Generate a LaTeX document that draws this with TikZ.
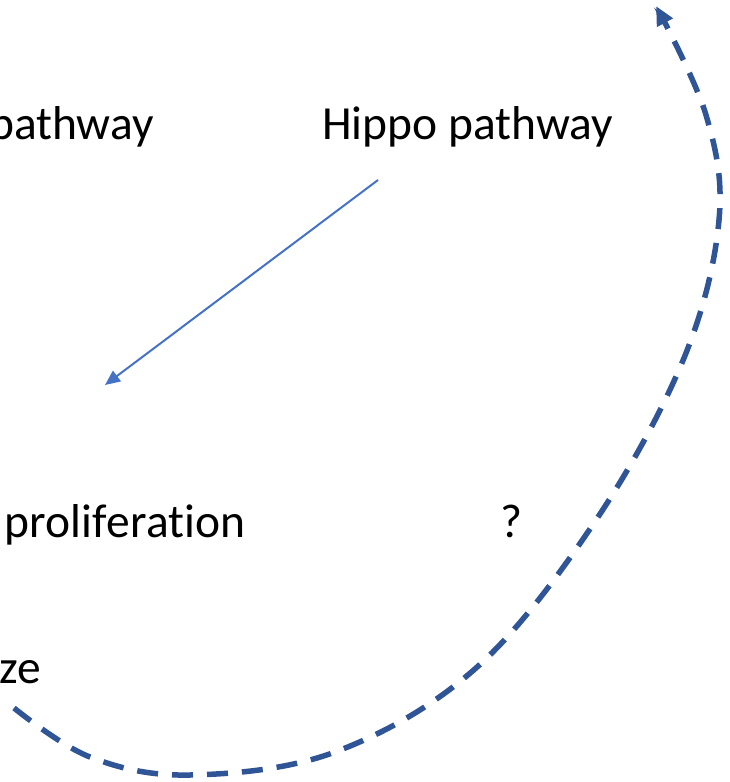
\documentclass[tikz,border=0pt]{standalone}
\usepackage{fontspec}
\setmainfont[Ligatures={NoCommon,NoRare,NoDiscretionary}]{Carlito}
\usetikzlibrary{arrows.meta}
\definecolor{thinblue}{HTML}{4472C4}
\definecolor{darkblue}{HTML}{2F5597}
\tikzset{
  lbl/.style={font=\fontsize{47.5}{57}\selectfont, inner sep=0pt},
  thinarrow/.style={draw=thinblue, line width=2pt, -{Triangle[length=15pt,width=13pt]}},
  dasharc/.style={draw=darkblue, line width=5.5pt, dash pattern=on 21pt off 14pt, -{Triangle[length=19pt,width=17pt]}}
}
\begin{document}
\begin{tikzpicture}[x=1pt,y=-1pt]
\useasboundingbox (0,0) rectangle (729,782);
\node[lbl, anchor=base east] (pw) at (154,139) {pathway};
\node[lbl, anchor=base west] (hippo) at (322,139) {Hippo pathway};
\node[lbl, anchor=base east] (prolif) at (246,537) {prolif\kern0ptera\kern0pt tion};
\node[lbl, anchor=base west] (q) at (500,537) {?};
\node[lbl, anchor=base east] (size) at (41,683) {ze};
\coordinate (atip) at (105,385);
\coordinate (dstart) at (14,708);
\coordinate (dend) at (656,6);
\draw[thinarrow] (378,180) -- (atip);
\draw[dasharc] plot[smooth, tension=0.6] coordinates {(dstart) (90,757) (190,775) (335,752) (476,668) (596,520) (684,358) (719,220) (706,115) (dend)};
\end{tikzpicture}
\end{document}
